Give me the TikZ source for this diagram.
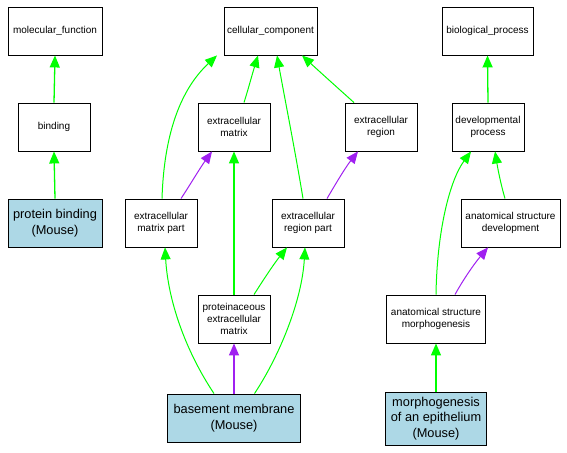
\documentclass[tikz,border=0pt]{standalone}
\usepackage{fontspec}
\setmainfont{Liberation Sans}
\usetikzlibrary{arrows.meta}
\definecolor{gogreen}{HTML}{00FF00}
\definecolor{gopurple}{HTML}{A020F0}
\definecolor{goblue}{HTML}{ADD8E6}
\tikzset{
  term/.style={draw=black, line width=0.9pt, fill=white, inner sep=0pt, align=center,
    minimum width=72pt, minimum height=48pt, font=\fontsize{10}{12}\selectfont},
  gene/.style={term, fill=goblue, font=\fontsize{12.8}{15.5}\selectfont},
  isa/.style={draw=gogreen, line width=1pt, -{Triangle[length=12pt,width=10pt]}},
  partof/.style={draw=gopurple, line width=1pt, -{Triangle[length=12pt,width=10pt]}},
  straightedge/.style={line width=1.3pt},
}
\begin{document}
\begin{tikzpicture}[x=1pt,y=-1pt]
\useasboundingbox (0,0) rectangle (567,452);
% nodes
\node[term, minimum width=94pt] (mf) at (55,31) {molecular\_function};
\node[term] (bind) at (54,127) {binding};
\node[gene, minimum width=94pt] (pb) at (55,223) {protein binding\\(Mouse)};
\node[term, minimum width=93pt] (cc) at (270.5,31) {cellular\_component};
\node[term] (ecm) at (234,127) {extracellular\\matrix};
\node[term] (er) at (381,127) {extracellular\\region};
\node[term] (ecmp) at (161,223) {extracellular\\matrix part};
\node[term] (ecrp) at (308,223) {extracellular\\region part};
\node[term] (pecm) at (234,319) {proteinaceous\\extracellular\\matrix};
\node[gene, minimum width=133pt] (bm) at (234,418) {basement membrane\\(Mouse)};
\node[term, minimum width=91pt] (bp) at (487.5,31) {biological\_process};
\node[term] (dp) at (488,127) {developmental\\process};
\node[term, minimum width=99pt] (asd) at (510.5,223) {anatomical structure\\development};
\node[term, minimum width=99pt] (asm) at (436,319) {anatomical structure\\morphogenesis};
\node[gene, minimum width=101pt, minimum height=53pt] (moe) at (436,418.5) {morphogenesis\\of an epithelium\\(Mouse)};
% edges
\draw[isa, straightedge] (bind.north) -- (mf.south);
\draw[isa, straightedge] (pb.north) -- (bind.south);
\draw[isa] ([xshift=1pt]ecmp.north) .. controls (164,135) and (180,90) .. ([xshift=-53.5pt]cc.south);
\draw[partof] ([xshift=20pt]ecmp.north) .. controls (190,185) and (200,168) .. ([xshift=-22pt]ecm.south);
\draw[isa] ([xshift=10pt]ecm.north) .. controls (248,90) and (252,75) .. ([xshift=-12.5pt]cc.south);
\draw[isa] ([xshift=-5pt]ecrp.north) .. controls (295,150) and (285,100) .. ([xshift=6.5pt]cc.south);
\draw[isa] ([xshift=-27pt]er.north) .. controls (340,90) and (320,72) .. ([xshift=31.5pt]cc.south);
\draw[partof] ([xshift=19pt]ecrp.north) .. controls (335,185) and (345,168) .. ([xshift=-23pt]er.south);
\draw[isa, straightedge] (pecm.north) -- (ecm.south);
\draw[isa] ([xshift=20pt]pecm.north) .. controls (262,282) and (273,265) .. ([xshift=-21pt]ecrp.south);
\draw[isa] ([xshift=-20pt]bm.north) .. controls (185,350) and (168,300) .. ([xshift=4pt]ecmp.south);
\draw[partof, straightedge] (bm.north) -- (pecm.south);
\draw[isa] ([xshift=20.5pt]bm.north) .. controls (280,355) and (302,300) .. ([xshift=-3pt]ecrp.south);
\draw[isa, straightedge] (dp.north) -- (bp.south);
\draw[isa] ([xshift=-5.5pt]asd.north) .. controls (501,185) and (498,170) .. ([xshift=7pt]dp.south);
\draw[isa] (asm.north) .. controls (437,230) and (450,180) .. ([xshift=-17pt]dp.south);
\draw[partof] ([xshift=19pt]asm.north) .. controls (463,280) and (474,264) .. ([xshift=-22.5pt]asd.south);
\draw[isa, straightedge] (moe.north) -- (asm.south);
\end{tikzpicture}
\end{document}
